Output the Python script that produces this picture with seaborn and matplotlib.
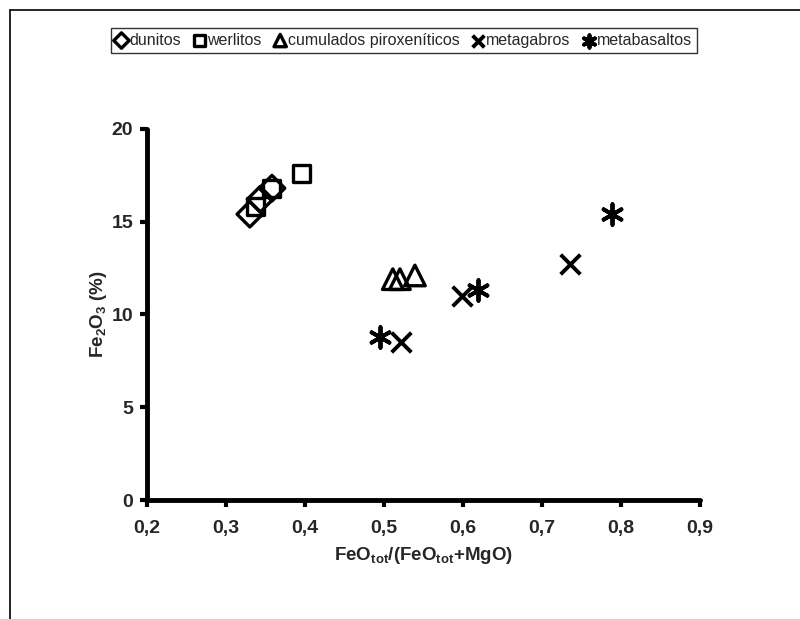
import matplotlib
matplotlib.use('Agg')
import matplotlib.pyplot as plt
from matplotlib.lines import Line2D
from matplotlib.ticker import FuncFormatter
import seaborn as sns

# data
dunitos_x = [0.330, 0.343, 0.358]
dunitos_y = [15.4, 16.2, 16.8]
werlitos_x = [0.337, 0.358, 0.396]
werlitos_y = [15.8, 16.8, 17.6]
cumulados_x = [0.511, 0.520, 0.539]
cumulados_y = [11.9, 11.9, 12.1]
metagabros_x = [0.522, 0.598, 0.735]
metagabros_y = [8.5, 11.0, 12.7]
metabasaltos_x = [0.495, 0.619, 0.788]
metabasaltos_y = [8.8, 11.3, 15.4]

x_ticks = [0.2, 0.3, 0.4, 0.5, 0.6, 0.7, 0.8, 0.9]
y_ticks = [0, 5, 10, 15, 20]

sns.set_style('white')
plt.rcParams['font.family'] = ['Liberation Sans', 'DejaVu Sans']
plt.rcParams['mathtext.fontset'] = 'custom'
plt.rcParams['mathtext.rm'] = 'Liberation Sans:bold'
plt.rcParams['mathtext.bf'] = 'Liberation Sans:bold'
plt.rcParams['mathtext.default'] = 'bf'

fig = plt.figure(figsize=(8, 6.19), dpi=100)
ax = fig.add_axes([0.184, 0.192, 0.691, 0.600])

groups = [
    ('dunitos', dunitos_x, dunitos_y, 'D', 170, True),
    ('werlitos', werlitos_x, werlitos_y, 's', 150, True),
    ('cumulados piroxeníticos', cumulados_x, cumulados_y, '^', 220, True),
    ('metagabros', metagabros_x, metagabros_y, 'x', 200, False),
    ('metabasaltos', metabasaltos_x, metabasaltos_y, (6, 2, 0), 220, False),
]

for name, xs, ys, mk, size, filled in groups:
    if filled:
        sns.scatterplot(x=xs, y=ys, ax=ax, marker=mk, s=size, facecolor='none',
                        edgecolor='black', linewidth=2.4, label=name)
    else:
        sns.scatterplot(x=xs, y=ys, ax=ax, marker=mk, s=size, color='black',
                        linewidth=2.8, label=name)

ax.set_xlim(0.2, 0.9)
ax.set_ylim(0, 20)
ax.set_xticks(x_ticks)
ax.set_yticks(y_ticks)
ax.xaxis.set_major_formatter(FuncFormatter(lambda v, p: f'{v:.1f}'.replace('.', ',')))
ax.yaxis.set_major_formatter(FuncFormatter(lambda v, p: f'{v:.0f}'))

for side in ['top', 'right']:
    ax.spines[side].set_visible(False)
for side in ['left', 'bottom']:
    ax.spines[side].set_linewidth(3.5)
    ax.spines[side].set_color('black')
    ax.spines[side].set_capstyle('round')

ax.tick_params(axis='both', direction='out', length=5, width=3, color='black',
               labelsize=14, pad=5, bottom=True, left=True)
ax.tick_params(axis='x', pad=9)
for lbl in ax.get_xticklabels() + ax.get_yticklabels():
    lbl.set_fontweight('bold')

ax.set_xlabel(r'FeO$_{tot}$/(FeO$_{tot}$+MgO)', fontsize=13.5,
              fontweight='bold', labelpad=6)
ax.set_ylabel(r'Fe$_{2}$O$_{3}$ (%)', fontsize=13.5,
              fontweight='bold', labelpad=2)

ax.get_legend().remove()
handles, labels = ax.get_legend_handles_labels()
leg = fig.legend(handles, labels, loc='center', bbox_to_anchor=(0.505, 0.935), ncol=5,
                 fontsize=11.5, frameon=True, fancybox=False, edgecolor='black',
                 handlelength=0.7, handletextpad=0.15, columnspacing=0.8,
                 borderpad=0.3, markerscale=0.6, borderaxespad=0)
leg.get_frame().set_linewidth(1.0)

# scanned page frame (left and top edges)
fig.add_artist(Line2D([0.0125, 0.0125], [0.0, 0.984], transform=fig.transFigure,
                      color='black', linewidth=1.2))
fig.add_artist(Line2D([0.0125, 1.0], [0.984, 0.984], transform=fig.transFigure,
                      color='black', linewidth=1.2))

fig.savefig('out.png', dpi=100)
